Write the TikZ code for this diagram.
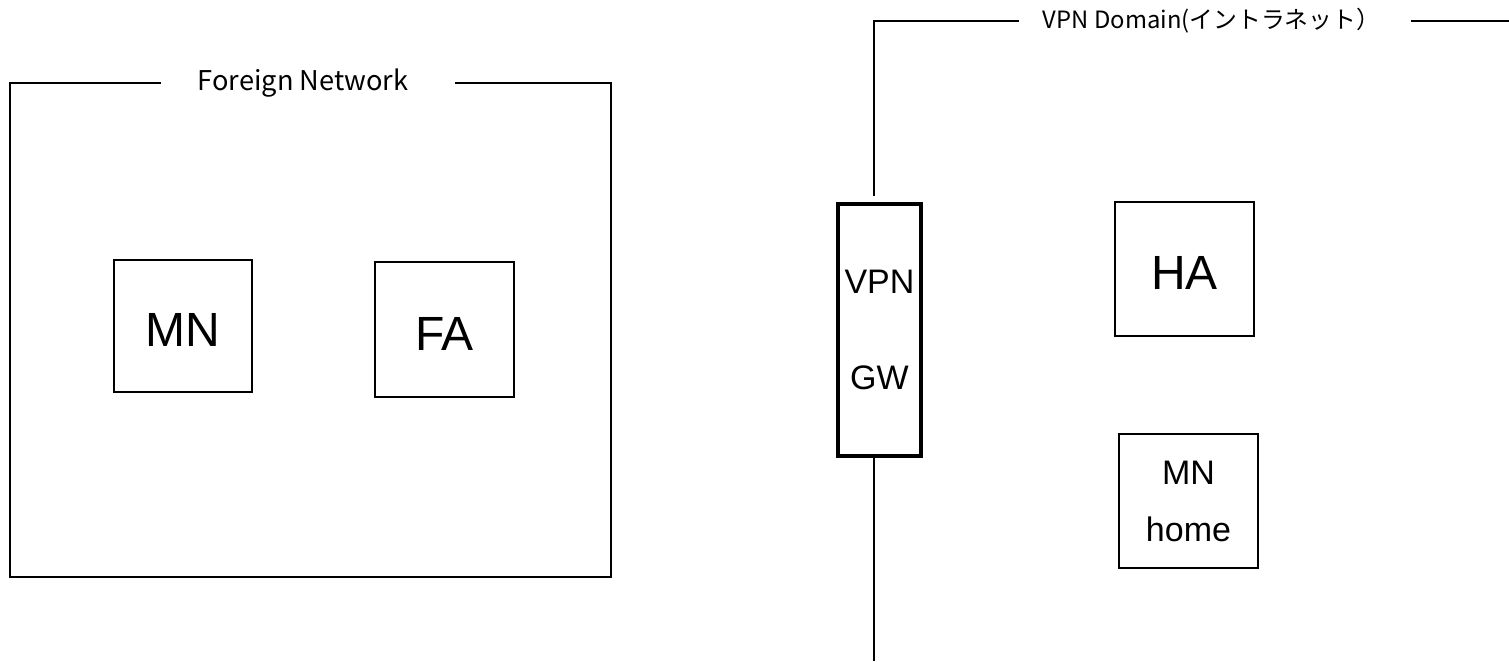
\documentclass[tikz,border=0pt]{standalone}
\usepackage{fontspec}
\setmainfont{Liberation Sans}
\newfontfamily\jp{Noto Sans CJK JP}
\newcommand\lowered[1]{\raisebox{-2pt}[\height][\depth]{#1}}
\begin{document}
\begin{tikzpicture}[x=0.5pt,y=-0.5pt,line width=0.75pt,
  box/.style={draw,inner sep=0pt,minimum width=69pt,minimum height=67pt},
  big/.style={font=\fontsize{24}{28}\selectfont},
  mid/.style={font=\fontsize{17}{28.5}\selectfont,align=center},
  frametitle/.style={inner sep=0pt,font=\jp\fontsize{12.5}{14}\selectfont}]
\useasboundingbox (0,0) rectangle (1509,661);
% Foreign Network frame
\coordinate (fntl) at (10,83);
\coordinate (fnbl) at (10,577);
\coordinate (fnbr) at (611,577);
\coordinate (fntr) at (611,83);
\node[frametitle,font=\jp\fontsize{13.6}{15}\selectfont] (fn) at (303,83) {Foreign Network};
\draw ([xshift=-18pt]fn.west |- fntl) -- (fntl) -- (fnbl) -- (fnbr) -- (fntr) -- ([xshift=23pt]fn.east |- fntr);
% nodes in foreign network
\node[box,big,minimum width=69pt,minimum height=66pt] (mn) at (183,326) {\lowered{MN}};
\node[box,big,minimum width=69.5pt,minimum height=67.5pt] (fa) at (444.5,329.5) {\lowered{FA}};
% VPN domain
\coordinate (vtop) at (874,21);
\coordinate (vbot) at (874,661);
\coordinate (vright) at (1509,21);
\node[frametitle,font=\jp\fontsize{11.9}{14}\selectfont] (vd) at (1211.5,21) {VPN Domain(イントラネット）};
\node[draw,line width=2pt,inner sep=0pt,minimum width=41.5pt,minimum height=126pt,mid,font=\fontsize{17}{48}\selectfont] (gw) at (879.5,329.5) {VPN\\GW};
\draw ([xshift=-11.5pt]vd.west |- vtop) -- (vtop) -- ([yshift=3pt]gw.north -| vtop);
\draw (gw.south -| vtop) -- (vbot);
\draw ([xshift=15pt]vd.east |- vright) -- (vright);
\node[box,big,minimum width=69.5pt,minimum height=67pt] (ha) at (1184.5,269) {\lowered{HA}};
\node[box,mid,minimum width=69.5pt,minimum height=67pt] (mnh) at (1188.5,501) {MN\\home};
\end{tikzpicture}
\end{document}
